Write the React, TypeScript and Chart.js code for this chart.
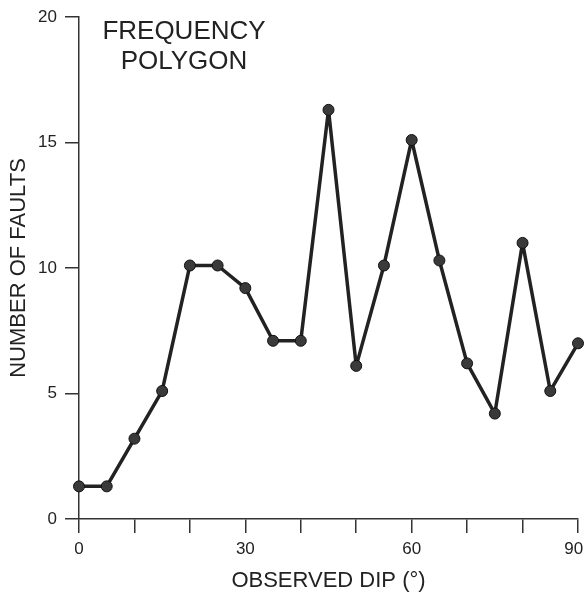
import React, { useEffect, useRef } from "react";
import { Chart, registerables } from "chart.js";

Chart.register(...registerables);

const dips = [0, 5, 10, 15, 20, 25, 30, 35, 40, 45, 50, 55, 60, 65, 70, 75, 80, 85, 90];
const faults = [1.3, 1.3, 3.2, 5.1, 10.1, 10.1, 9.2, 7.1, 7.1, 16.3, 6.1, 10.1, 15.1, 10.3, 6.2, 4.2, 11.0, 5.1, 7.0];
const xLabelled = [0, 30, 60, 90];
const titleLines = ["FREQUENCY", "POLYGON"];
const xTitle = "OBSERVED DIP (°)";
const yTitle = "NUMBER OF FAULTS";

const FONT = "'Liberation Sans', Arial, Helvetica, sans-serif";
const INK = "#222";

const innerTitle = {
  id: "innerTitle",
  afterDraw(chart: any) {
    const { ctx, chartArea } = chart;
    ctx.save();
    ctx.fillStyle = INK;
    ctx.font = `26px ${FONT}`;
    ctx.textAlign = "center";
    ctx.textBaseline = "middle";
    const cx = chartArea.left + 105;
    titleLines.forEach((t, i) => {
      ctx.fillText(t, cx, chartArea.top + 15 + i * 30);
    });
    ctx.restore();
  },
};

export default function App() {
  const ref = useRef<HTMLCanvasElement | null>(null);
  useEffect(() => {
    if (!ref.current) return;
    const chart = new Chart(ref.current, {
      type: "line",
      data: {
        datasets: [
          {
            data: dips.map((d, i) => ({ x: d, y: faults[i] })),
            borderColor: INK,
            borderWidth: 3.5,
            borderJoinStyle: "round",
            borderCapStyle: "round",
            pointRadius: 5.5,
            pointBackgroundColor: "#3a3a3a",
            pointBorderColor: "#111",
            pointBorderWidth: 1,
            tension: 0,
            clip: false as any,
          },
        ],
      },
      options: {
        animation: false,
        responsive: false,
        maintainAspectRatio: false,
        layout: { padding: { top: 17, right: 6, left: 0, bottom: 0 }, autoPadding: false } as any,
        plugins: { legend: { display: false }, tooltip: { enabled: false } },
        scales: {
          x: {
            type: "linear",
            min: 0,
            max: 90,
            afterFit: (s: any) => {
              s.height = 75;
              s.paddingLeft = 0;
              s.paddingRight = 0;
            },
            border: { display: true, color: "#333", width: 1.5 },
            grid: { drawOnChartArea: false, drawTicks: true, tickLength: 14, color: "#333", lineWidth: 1.5 },
            ticks: {
              stepSize: 10,
              padding: 6,
              color: INK,
              maxRotation: 0,
              autoSkip: false,
              font: { family: FONT, size: 17 },
              callback: (v: any) => {
                const n = Number(v);
                if (!xLabelled.includes(n)) return "";
                // last label nudged left so it stays inside the canvas edge
                return n === xLabelled[xLabelled.length - 1] ? String(n) + "\u2002" : String(n);
              },
            },
            title: {
              display: true,
              text: xTitle,
              color: INK,
              font: { family: FONT, size: 22, lineHeight: 1 },
              padding: { top: 0, bottom: 2 },
            },
          },
          y: {
            type: "linear",
            min: 0,
            max: 20,
            afterFit: (s: any) => {
              s.width = 79;
              s.paddingTop = 0;
              s.paddingBottom = 0;
            },
            border: { display: true, color: "#333", width: 1.5 },
            grid: { drawOnChartArea: false, drawTicks: true, tickLength: 14, color: "#333", lineWidth: 1.5 },
            ticks: {
              stepSize: 5,
              padding: 8,
              color: INK,
              font: { family: FONT, size: 17 },
            },
            title: {
              display: true,
              text: yTitle,
              color: INK,
              font: { family: FONT, size: 22, lineHeight: 1 },
              padding: { top: 8, bottom: 0 },
            },
          },
        },
      },
      plugins: [innerTitle],
    });
    return () => chart.destroy();
  }, []);
  return (
    <div style={{ position: "fixed", left: 0, top: 0, width: 584, height: 594, background: "#fff" }}>
      <canvas ref={ref} width={584} height={594} style={{ display: "block", width: 584, height: 594 }} />
    </div>
  );
}
